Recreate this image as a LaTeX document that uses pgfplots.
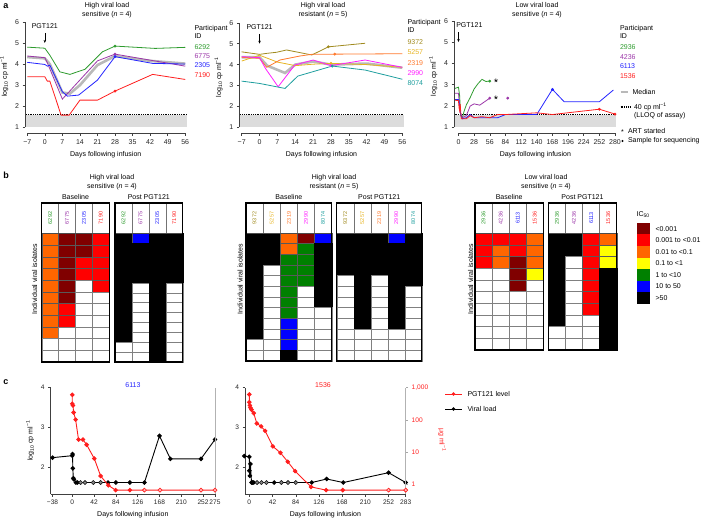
\documentclass[border=0pt]{standalone}
\usepackage{pgfplots}
\pgfplotsset{compat=1.18}
\usepackage{fontspec}
\setmainfont{Liberation Sans}
\usetikzlibrary{arrows.meta}

\definecolor{cgreen}{HTML}{2E9B2E}
\definecolor{cpurple}{HTML}{9B36A8}
\definecolor{cblue}{HTML}{2323FF}
\definecolor{cred}{HTML}{FF1E1E}
\definecolor{colive}{HTML}{A08A1E}
\definecolor{cgold}{HTML}{E6B422}
\definecolor{corange}{HTML}{FF7A2E}
\definecolor{cmag}{HTML}{FF1EFF}
\definecolor{cteal}{HTML}{1E9E9E}
\definecolor{shade}{HTML}{DCDCDC}
\definecolor{medgray}{HTML}{B9B9B9}
\definecolor{hdred}{RGB}{128,0,0}
\definecolor{hred}{RGB}{255,0,0}
\definecolor{horange}{RGB}{255,102,0}
\definecolor{hyellow}{RGB}{255,255,0}
\definecolor{hgreen}{RGB}{0,128,0}
\definecolor{hblue}{RGB}{0,0,255}

\tikzset{
  lloq/.style={black, line width=1.1pt, dash pattern=on 0.9pt off 0.9pt},
  median/.style={medgray, line width=2.6pt},
  vline/.style={line width=0.8pt},
}
\pgfplotsset{
  aax/.style={scale only axis, anchor=south west, axis line style={draw=none},
    axis x line*=bottom, axis y line*=left, tick align=outside, major tick length=2.5pt,
    tick style={black!75, line width=0.45pt}, clip=false,
    ticklabel style={font=\fontsize{7}{8}\selectfont, text=black!85},
    label style={font=\fontsize{7}{8}\selectfont},
    /pgf/number format/assume math mode=true, ymin=0.72, ymax=6.1, ytick={1,2,3,4,5,6},
    xlabel={Days following infusion}, ylabel={log\textsubscript{10} cp ml\textsuperscript{−1}}},
  cax/.style={scale only axis, anchor=south west, axis x line*=bottom, axis y line*=left,
    axis line style={-, black!75, line width=0.45pt}, tick align=outside, major tick length=2.5pt,
    tick style={black!75, line width=0.45pt}, clip=false,
    ticklabel style={font=\fontsize{6.6}{8}\selectfont, text=black!85},
    label style={font=\fontsize{7}{8}\selectfont},
    /pgf/number format/assume math mode=true, ymin=1.31, ymax=4, ytick={2,3,4},
    xlabel={Days following infusion}},
  pax/.style={scale only axis, anchor=south west, ymin=-0.30, ymax=3,
    axis x line=none, axis y line*=right, axis line style={-, black!30, line width=0.8pt},
    clip=false, tick align=outside, major tick length=2.5pt,
    tick style={black!35, line width=0.45pt},
    ticklabel style={font=\fontsize{6.6}{8}\selectfont, text=cred},
    /pgf/number format/assume math mode=true},
  smark/.style={only marks, mark=*, mark size=1.2pt},
  hm/.style={scale only axis, anchor=south west, hide axis, y dir=reverse, enlargelimits=false, clip=false},
  hmp/.style={scatter, only marks, mark=square*, scatter src=explicit symbolic,
    scatter/classes={0={fill=white, draw=black!50}, 1={fill=hdred, draw=black!65},
      2={fill=hred, draw=black!65}, 3={fill=horange, draw=black!65}, 4={fill=hyellow, draw=black!65},
      5={fill=hgreen, draw=black!65}, 6={fill=hblue, draw=black!65}, 7={fill=black, draw=black}}},
}

\newcommand{\hmframe}[5]{%
  \pgfmathsetmacro{\cw}{(#2-#1)/#5}%
  \pgfmathtruncatemacro{\nm}{#5-1}%
  \foreach \i in {1,...,\nm}{\draw[black!55, line width=0.35pt] ({#1+\i*\cw},#4) -- ({#1+\i*\cw},316);}
  \draw[black!70, line width=0.4pt] (#1,#4) -- (#2,#4);
  \draw[line width=1.1pt] (#1,#3) rectangle (#2,316);
}
\newcommand{\hid}[3]{\node[rotate=90, font=\fontsize{5.5}{6}\selectfont, text=#3] at (#1,301) {#2};}

\begin{document}
\begin{tikzpicture}[x=1pt, y=1pt, font=\fontsize{7}{8.4}\selectfont]
\useasboundingbox (0,0) rectangle (706,519);

% ---------------- panel letters
\node[font=\fontsize{9}{10}\bfseries\selectfont] at (6,513) {a};
\node[font=\fontsize{9}{10}\bfseries\selectfont] at (6,344) {b};
\node[font=\fontsize{9}{10}\bfseries\selectfont] at (6,137) {c};

% ---------------- a1
\node[align=center] at (107,509) {High viral load\\sensitive (\textit{n} = 4)};
\begin{axis}[aax, at={(25pt,385.7pt)}, width=161.5pt, height=113.6pt, xmin=-7.9, xmax=56.5,
  xtick={-7,0,...,56}, xticklabels={−7,0,7,14,21,28,35,42,49,56}]
\addplot[fill=shade, draw=none] coordinates {(-7.5,1)(56.5,1)(56.5,1.6)(-7.5,1.6)} -- cycle;
\addplot[lloq] coordinates {(-7.5,1.6)(56.5,1.6)};
\addplot[median] coordinates {(-7,4.33)(0,4.27)(2,4.0)(7,2.65)(10,2.6)(14,3.0)(21,3.95)(28,4.38)(42,4.15)(56,4.02)};
\addplot[vline, cgreen] coordinates {(-7,4.8)(0,4.75)(2,4.42)(6,3.63)(10,3.51)(16,3.75)(23,4.58)(28,4.85)(44,4.74)(56,4.79)};
\addplot[vline, cpurple] coordinates {(-7,4.38)(0,4.3)(1,4.06)(7,2.34)(21,4.15)(28,4.47)(56,3.9)};
\addplot[vline, cblue] coordinates {(-7,4.08)(0,3.98)(1,3.9)(2,3.95)(7,2.69)(9,2.48)(13.5,2.53)(21,3.24)(28,4.35)(43,4.03)(56,4.0)};
\addplot[vline, cred] coordinates {(-7,3.4)(0,3.4)(1,3.19)(2,3.19)(6.5,1.58)(9.7,1.58)(14,2.29)(21,2.29)(28,2.72)(43,3.51)(56,3.27)};
\addplot[smark, cgreen] coordinates {(28,4.85)};
\addplot[smark, cpurple] coordinates {(28,4.47)};
\addplot[smark, cblue] coordinates {(28,4.35)};
\addplot[smark, cred] coordinates {(28,2.72)};
\draw[black!75, line width=0.45pt] (axis cs:-7.9,1) -- (axis cs:-7.9,6);
\draw[black!75, line width=0.45pt] (axis cs:-7,0.72) -- (axis cs:56,0.72);
\draw[-{Stealth[length=3pt,width=2.5pt]}, line width=0.6pt] (axis cs:0,5.47) -- (axis cs:0,5.0);
\node[anchor=south, inner sep=1pt] at (axis cs:0,5.6) {PGT121};
\end{axis}
\node[align=left, anchor=west] at (191,487) {Participant\\ID};
\node[anchor=west, text=cgreen] at (191,472) {6292};
\node[anchor=west, text=cpurple] at (191,463) {6775};
\node[anchor=west, text=cblue] at (191,454) {2305};
\node[anchor=west, text=cred] at (191,444) {7190};

% ---------------- a2
\node[align=center] at (323,509) {High viral load\\resistant (\textit{n} = 5)};
\begin{axis}[aax, at={(239.4pt,385.8pt)}, width=164.2pt, height=112.5pt, xmin=-7.9, xmax=56.5,
  xtick={-7,0,...,56}, xticklabels={−7,0,7,14,21,28,35,42,49,56}]
\addplot[fill=shade, draw=none] coordinates {(-7.5,1)(56.5,1)(56.5,1.6)(-7.5,1.6)} -- cycle;
\addplot[lloq] coordinates {(-7.5,1.6)(56.5,1.6)};
\addplot[median] coordinates {(-7,4.35)(0,4.35)(3,3.95)(7,3.75)(10,3.6)(14,4.0)(21,4.15)(28,4.0)(42,4.05)(56,3.85)};
\addplot[vline, colive] coordinates {(-7,4.61)(0,4.49)(3,4.54)(6.7,4.59)(10.6,4.7)(20.5,4.46)(27,4.85)(41.4,5.02)};
\addplot[vline, cgold] coordinates {(-7,4.17)(0,4.45)(7,4.12)(10,4.05)(14,3.95)(21,4.02)(28,4.06)(42,4.0)(56,3.87)};
\addplot[vline, corange] coordinates {(-7,4.35)(0,4.3)(2.8,3.87)(8,4.22)(15.8,4.41)(21,4.5)(29.5,4.5)(56,4.52)};
\addplot[vline, cmag] coordinates {(-7,4.38)(0,4.33)(2.3,3.82)(7.3,2.94)(13.8,3.98)(21,4.22)(28,3.95)(41.4,4.22)(56,3.87)};
\addplot[vline, cteal] coordinates {(-7,3.21)(0,3.1)(10,2.86)(15,3.45)(28.5,3.93)(41.4,3.74)(56,3.3)};
\addplot[smark, colive] coordinates {(27,4.85)};
\addplot[smark, cgold] coordinates {(28,4.06)};
\addplot[smark, corange] coordinates {(29.5,4.5)};
\addplot[smark, cmag] coordinates {(28,3.95)};
\addplot[smark, cteal] coordinates {(28.5,3.93)};
\draw[black!75, line width=0.45pt] (axis cs:-7.9,1) -- (axis cs:-7.9,6);
\draw[black!75, line width=0.45pt] (axis cs:-7,0.72) -- (axis cs:56,0.72);
\draw[-{Stealth[length=3pt,width=2.5pt]}, line width=0.6pt] (axis cs:0,5.47) -- (axis cs:0,5.0);
\node[anchor=south, inner sep=1pt] at (axis cs:0,5.6) {PGT121};
\end{axis}
\node[align=left, anchor=west] at (404,493) {Participant\\ID};
\node[anchor=west, text=colive] at (404,477) {9372};
\node[anchor=west, text=cgold] at (404,467) {5257};
\node[anchor=west, text=corange] at (404,456) {2319};
\node[anchor=west, text=cmag] at (404,446) {2990};
\node[anchor=west, text=cteal] at (404,436) {8074};

% ---------------- a3
\node[align=center] at (537,509) {Low viral load\\sensitive (\textit{n} = 4)};
\begin{axis}[aax, at={(454pt,385.7pt)}, width=162.7pt, height=114.7pt, xmin=-8, xmax=283,
  xtick={0,28,...,280}]
\addplot[fill=shade, draw=none] coordinates {(-7,1)(282,1)(282,1.6)(-7,1.6)} -- cycle;
\addplot[lloq] coordinates {(-7,1.6)(282,1.6)};
\addplot[vline, cgreen] coordinates {(-7,2.82)(0,2.88)(2,2.5)(4,1.55)(7,1.45)(10,1.75)(14,2.05)(21,2.4)(28,2.8)(35,3.05)(42,3.25)(49,3.15)(56,3.17)};
\addplot[vline, cpurple] coordinates {(-7,2.6)(0,2.6)(3,1.7)(7,1.45)(14,1.55)(21,2.0)(28,2.1)(38,2.04)(56,2.37)};
\addplot[vline, cblue] coordinates {(-7,2.3)(0,2.3)(1,2.25)(2,1.95)(4,1.6)(7,1.4)(14,1.45)(21,1.6)(28,1.45)(42,1.45)(56,1.45)(70,1.45)(84,1.6)(140,1.6)(168,2.78)(189,2.2)(252,2.2)(277,2.75)};
\addplot[vline, cred] coordinates {(-7,2.28)(0,2.25)(1,1.92)(2,1.8)(3,2.1)(5,1.4)(14,1.4)(21,1.55)(28,1.45)(42,1.5)(56,1.45)(70,1.6)(84,1.6)(140,1.68)(168,1.6)(252,1.85)(280,1.62)};
\addplot[smark, cgreen] coordinates {(56,3.17)};
\addplot[smark, cpurple] coordinates {(56,2.37)(88,2.37)};
\addplot[smark, cblue] coordinates {(168,2.78)};
\addplot[smark, cred] coordinates {(252,1.85)(280,1.62)};
\addplot[only marks, mark=star, mark size=2pt, black, line width=0.5pt] coordinates {(67,3.2)(67,2.4)};
\draw[black!75, line width=0.45pt] (axis cs:-8,1) -- (axis cs:-8,6);
\draw[black!75, line width=0.45pt] (axis cs:0,0.72) -- (axis cs:280,0.72);
\draw[-{Stealth[length=3pt,width=2.5pt]}, line width=0.6pt] (axis cs:0,5.47) -- (axis cs:0,5.0);
\node[anchor=south west, inner sep=1pt] at (axis cs:-6,5.6) {PGT121};
\end{axis}
\node[align=left, anchor=west] at (616.5,487) {Participant\\ID};
\node[anchor=west, text=cgreen] at (616.5,472) {2936};
\node[anchor=west, text=cpurple] at (616.5,462) {4236};
\node[anchor=west, text=cblue] at (616.5,453) {6113};
\node[anchor=west, text=cred] at (616.5,443) {1536};
\draw[median] (620.5,427) -- (627.5,427);
\node[anchor=west] at (629,427) {Median};
\draw[lloq] (620.5,412) -- (630,412);
\node[anchor=west] at (630.5,412) {40 cp ml\textsuperscript{−1}};
\node[anchor=west] at (630.5,403) {(LLOQ of assay)};
\node at (622.5,387) {*};
\node[anchor=west] at (624.5,388) {ART started};
\fill (622.5,378) circle (1.1);
\node[anchor=west] at (624.5,378) {Sample for sequencing};

% ---------------- b : heatmaps
\node[align=center] at (112,337) {High viral load\\sensitive (\textit{n} = 4)};
\node[align=center] at (334,337) {High viral load\\resistant (\textit{n} = 5)};
\node[align=center] at (546,337) {Low viral load\\sensitive (\textit{n} = 4)};
\node at (75.5,322) {Baseline};
\node at (148.8,322) {Post PGT121};
\node at (288.9,322) {Baseline};
\node at (379.2,322) {Post PGT121};
\node at (509.2,322) {Baseline};
\node at (582.5,322) {Post PGT121};
\node[rotate=90] at (34.7,240) {Individual viral isolates};
\node[rotate=90] at (240,240) {Individual viral isolates};
\node[rotate=90] at (470.5,240) {Individual viral isolates};

% b1 baseline (cell 16.9 x 11.7)
\begin{axis}[hm, at={(41.7pt,157pt)}, width=67.6pt, height=128.7pt, xmin=0.5, xmax=4.5, ymin=0.5, ymax=11.5]
\addplot[hmp, mark size=5.85pt, mark options={xscale=1.444, line width=0.35pt}] table[meta=c, row sep=\\] {x y c\\
1 1 3\\ 2 1 1\\ 3 1 1\\ 4 1 2\\
1 2 3\\ 2 2 1\\ 3 2 1\\ 4 2 2\\
1 3 3\\ 2 3 1\\ 3 3 2\\ 4 3 2\\
1 4 3\\ 2 4 1\\ 3 4 2\\ 4 4 2\\
1 5 3\\ 2 5 1\\ 3 5 0\\ 4 5 2\\
1 6 3\\ 2 6 1\\ 3 6 0\\ 4 6 0\\
1 7 3\\ 2 7 2\\ 3 7 0\\ 4 7 0\\
1 8 3\\ 2 8 2\\ 3 8 0\\ 4 8 0\\
1 9 3\\ 2 9 0\\ 3 9 0\\ 4 9 0\\
1 10 0\\ 2 10 0\\ 3 10 0\\ 4 10 0\\
1 11 0\\ 2 11 0\\ 3 11 0\\ 4 11 0\\
};
\end{axis}
% b1 post (cell 16.9 x 9.9)
\begin{axis}[hm, at={(115pt,157pt)}, width=67.7pt, height=128.7pt, xmin=0.5, xmax=4.5, ymin=0.5, ymax=13.5]
\addplot[hmp, mark size=4.95pt, mark options={xscale=1.71, line width=0.35pt}] table[meta=c, row sep=\\] {x y c\\
1 1 7\\ 2 1 6\\ 3 1 7\\ 4 1 7\\
1 2 7\\ 2 2 7\\ 3 2 7\\ 4 2 7\\
1 3 7\\ 2 3 7\\ 3 3 7\\ 4 3 7\\
1 4 7\\ 2 4 7\\ 3 4 7\\ 4 4 7\\
1 5 7\\ 2 5 7\\ 3 5 7\\ 4 5 7\\
1 6 7\\ 2 6 0\\ 3 6 7\\ 4 6 0\\
1 7 7\\ 2 7 0\\ 3 7 7\\ 4 7 0\\
1 8 7\\ 2 8 0\\ 3 8 7\\ 4 8 0\\
1 9 7\\ 2 9 0\\ 3 9 7\\ 4 9 0\\
1 10 7\\ 2 10 0\\ 3 10 7\\ 4 10 0\\
1 11 7\\ 2 11 0\\ 3 11 7\\ 4 11 0\\
1 12 0\\ 2 12 0\\ 3 12 7\\ 4 12 0\\
1 13 0\\ 2 13 0\\ 3 13 7\\ 4 13 0\\
};
\end{axis}
% b2 baseline (cell 17.14 x 10.67)
\begin{axis}[hm, at={(246pt,158pt)}, width=85.7pt, height=128pt, xmin=0.5, xmax=5.5, ymin=0.5, ymax=12.5]
\addplot[hmp, mark size=5.333pt, mark options={xscale=1.607, line width=0.35pt}] table[meta=c, row sep=\\] {x y c\\
1 1 7\\ 2 1 7\\ 3 1 3\\ 4 1 1\\ 5 1 6\\
1 2 7\\ 2 2 7\\ 3 2 3\\ 4 2 5\\ 5 2 7\\
1 3 7\\ 2 3 7\\ 3 3 5\\ 4 3 5\\ 5 3 7\\
1 4 7\\ 2 4 0\\ 3 4 5\\ 4 4 5\\ 5 4 7\\
1 5 7\\ 2 5 0\\ 3 5 5\\ 4 5 5\\ 5 5 7\\
1 6 7\\ 2 6 0\\ 3 6 5\\ 4 6 0\\ 5 6 7\\
1 7 7\\ 2 7 0\\ 3 7 5\\ 4 7 0\\ 5 7 7\\
1 8 7\\ 2 8 0\\ 3 8 5\\ 4 8 0\\ 5 8 0\\
1 9 7\\ 2 9 0\\ 3 9 6\\ 4 9 0\\ 5 9 0\\
1 10 7\\ 2 10 0\\ 3 10 6\\ 4 10 0\\ 5 10 0\\
1 11 0\\ 2 11 0\\ 3 11 6\\ 4 11 0\\ 5 11 0\\
1 12 0\\ 2 12 0\\ 3 12 7\\ 4 12 0\\ 5 12 0\\
};
\end{axis}
% b2 post (cell 17.0 x 10.67)
\begin{axis}[hm, at={(336.7pt,158pt)}, width=85pt, height=128pt, xmin=0.5, xmax=5.5, ymin=0.5, ymax=12.5]
\addplot[hmp, mark size=5.333pt, mark options={xscale=1.594, line width=0.35pt}] table[meta=c, row sep=\\] {x y c\\
1 1 7\\ 2 1 7\\ 3 1 7\\ 4 1 6\\ 5 1 7\\
1 2 7\\ 2 2 7\\ 3 2 7\\ 4 2 7\\ 5 2 7\\
1 3 7\\ 2 3 7\\ 3 3 7\\ 4 3 7\\ 5 3 7\\
1 4 7\\ 2 4 7\\ 3 4 7\\ 4 4 7\\ 5 4 7\\
1 5 0\\ 2 5 7\\ 3 5 0\\ 4 5 7\\ 5 5 7\\
1 6 0\\ 2 6 7\\ 3 6 0\\ 4 6 7\\ 5 6 0\\
1 7 0\\ 2 7 7\\ 3 7 0\\ 4 7 7\\ 5 7 0\\
1 8 0\\ 2 8 7\\ 3 8 0\\ 4 8 7\\ 5 8 0\\
1 9 0\\ 2 9 7\\ 3 9 0\\ 4 9 7\\ 5 9 0\\
1 10 0\\ 2 10 0\\ 3 10 0\\ 4 10 0\\ 5 10 0\\
1 11 0\\ 2 11 0\\ 3 11 0\\ 4 11 0\\ 5 11 0\\
1 12 0\\ 2 12 0\\ 3 12 0\\ 4 12 0\\ 5 12 0\\
};
\end{axis}
% b3 baseline (cell 17.08 x 11.67)
\begin{axis}[hm, at={(475pt,169pt)}, width=68.3pt, height=116.7pt, xmin=0.5, xmax=4.5, ymin=0.5, ymax=10.5]
\addplot[hmp, mark size=5.835pt, mark options={xscale=1.463, line width=0.35pt}] table[meta=c, row sep=\\] {x y c\\
1 1 2\\ 2 1 2\\ 3 1 2\\ 4 1 3\\
1 2 2\\ 2 2 3\\ 3 2 2\\ 4 2 3\\
1 3 2\\ 2 3 3\\ 3 3 1\\ 4 3 3\\
1 4 0\\ 2 4 0\\ 3 4 1\\ 4 4 4\\
1 5 0\\ 2 5 0\\ 3 5 1\\ 4 5 0\\
1 6 0\\ 2 6 0\\ 3 6 0\\ 4 6 0\\
1 7 0\\ 2 7 0\\ 3 7 0\\ 4 7 0\\
1 8 0\\ 2 8 0\\ 3 8 0\\ 4 8 0\\
1 9 0\\ 2 9 0\\ 3 9 0\\ 4 9 0\\
1 10 0\\ 2 10 0\\ 3 10 0\\ 4 10 0\\
};
\end{axis}
% b3 post (cell 17.1 x 11.67)
\begin{axis}[hm, at={(548.3pt,169pt)}, width=68.4pt, height=116.7pt, xmin=0.5, xmax=4.5, ymin=0.5, ymax=10.5]
\addplot[hmp, mark size=5.835pt, mark options={xscale=1.465, line width=0.35pt}] table[meta=c, row sep=\\] {x y c\\
1 1 7\\ 2 1 7\\ 3 1 2\\ 4 1 3\\
1 2 7\\ 2 2 7\\ 3 2 2\\ 4 2 4\\
1 3 7\\ 2 3 0\\ 3 3 2\\ 4 3 4\\
1 4 7\\ 2 4 0\\ 3 4 2\\ 4 4 7\\
1 5 7\\ 2 5 0\\ 3 5 2\\ 4 5 7\\
1 6 7\\ 2 6 0\\ 3 6 2\\ 4 6 7\\
1 7 7\\ 2 7 0\\ 3 7 2\\ 4 7 7\\
1 8 7\\ 2 8 0\\ 3 8 0\\ 4 8 7\\
1 9 0\\ 2 9 0\\ 3 9 0\\ 4 9 7\\
1 10 0\\ 2 10 0\\ 3 10 0\\ 4 10 7\\
};
\end{axis}

% frames and headers
\hmframe{41.7}{109.3}{157}{285.7}{4}
\hmframe{115}{182.7}{157}{285.7}{4}
\hmframe{246}{331.7}{158}{285.7}{5}
\hmframe{336.7}{421.7}{158}{285.7}{5}
\hmframe{475}{543.3}{169}{285.7}{4}
\hmframe{548.3}{616.7}{169}{285.7}{4}
\hid{50.15}{6292}{cgreen}\hid{67.05}{6775}{cpurple}\hid{83.95}{2305}{cblue}\hid{100.85}{7190}{cred}
\hid{123.5}{6292}{cgreen}\hid{140.4}{6775}{cpurple}\hid{157.3}{2305}{cblue}\hid{174.2}{7190}{cred}
\hid{254.6}{9372}{colive}\hid{271.7}{5257}{cgold}\hid{288.9}{2319}{corange}\hid{306.0}{2990}{cmag}\hid{323.1}{8074}{cteal}
\hid{345.2}{9372}{colive}\hid{362.2}{5257}{cgold}\hid{379.2}{2319}{corange}\hid{396.2}{2990}{cmag}\hid{413.2}{8074}{cteal}
\hid{483.5}{2936}{cgreen}\hid{500.6}{4236}{cpurple}\hid{517.7}{6113}{cblue}\hid{534.8}{1536}{cred}
\hid{556.9}{2936}{cgreen}\hid{574.0}{4236}{cpurple}\hid{591.1}{6113}{cblue}\hid{608.2}{1536}{cred}

% IC50 legend
\node[anchor=west, inner sep=0pt] at (636.5,304) {IC\textsubscript{50}};
\fill[hdred] (637,284.5) rectangle (650,296);
\fill[hred] (637,273) rectangle (650,284.5);
\fill[horange] (637,261.4) rectangle (650,273);
\fill[hyellow] (637,249.9) rectangle (650,261.4);
\fill[hgreen] (637,238.4) rectangle (650,249.9);
\fill[hblue] (637,226.9) rectangle (650,238.4);
\fill[black] (637,215.3) rectangle (650,226.9);
\node[anchor=west] at (652,290.2) {<0.001};
\node[anchor=west] at (652,278.7) {0.001 to <0.01};
\node[anchor=west] at (652,267.2) {0.01 to <0.1};
\node[anchor=west] at (652,255.6) {0.1 to <1};
\node[anchor=west] at (652,244.1) {1 to <10};
\node[anchor=west] at (652,232.6) {10 to 50};
\node[anchor=west] at (652,221.1) {>50};

% ---------------- c1
\node[text=cblue] at (133,134) {6113};
\begin{axis}[cax, at={(50.7pt,25pt)}, width=164.3pt, height=106.3pt, xmin=-41.6, xmax=275,
  xtick={-38,0,42,84,126,168,210,252,275}, xticklabels={−38,0,42,84,126,168,210,252,275},
  ylabel={log\textsubscript{10} cp ml\textsuperscript{−1}}]
\addplot[black, line width=0.9pt, mark=*, mark size=1.8pt] coordinates {(-38,2.23)(0,2.28)(0.5,2.32)(1,1.96)(2,1.71)(3,1.68)(7,1.6)(10,1.6)(16,1.6)(24.5,1.6)(40.5,1.6)(54.6,1.6)(69,1.6)(84,1.6)(111,1.6)(139,1.6)(168,2.78)(189,2.2)(248,2.2)(275,2.69)};
\addplot[only marks, mark=*, mark size=1.8pt, mark options={fill=black!45, draw=black!85}] coordinates {(16,1.6)(24.5,1.6)(40.5,1.6)(54.6,1.6)};
\end{axis}
% PGT121 level, log10 of ug/ml
\begin{axis}[pax, at={(50.7pt,25pt)}, width=164.3pt, height=106.3pt, xmin=-41.6, xmax=275, ytick=\empty]
\addplot[cred, line width=0.9pt, mark=*, mark size=1.8pt] coordinates {(0,2.78)(0,2.50)(1.3,2.45)(2.6,2.23)(6.4,2.01)(12,1.39)(20.5,1.39)(27.6,1.23)(42.4,0.80)(54.6,0.26)(69.4,-0.03)(83.5,-0.18)(111,-0.18)(139,-0.18)(169,-0.18)(248,-0.18)(275,-0.18)};
\addplot[only marks, mark=*, mark size=1.8pt, mark options={fill=red!25, draw=cred}] coordinates {(139,-0.18)(169,-0.18)(248,-0.18)(275,-0.18)};
\end{axis}

% ---------------- c2
\node[text=cred] at (323,134) {1536};
\begin{axis}[cax, at={(245pt,25pt)}, width=160.7pt, height=106.3pt, xmin=-7.8, xmax=283,
  xtick={0,42,84,126,168,210,252,283}]
\addplot[black, line width=0.9pt, mark=*, mark size=1.8pt] coordinates {(-9,2.27)(0,2.25)(0,1.9)(1,1.77)(2,2.07)(4,1.6)(6,1.6)(8,1.6)(14,1.6)(22,1.6)(31,1.6)(45,1.6)(58,1.6)(70,1.6)(84,1.6)(113,1.6)(140,1.69)(170,1.6)(252,1.85)(283,1.6)};
\addplot[only marks, mark=*, mark size=1.8pt, mark options={fill=black!45, draw=black!85}] coordinates {(14,1.6)(22,1.6)(31,1.6)(58,1.6)(70,1.6)(84,1.6)};
\end{axis}
\begin{axis}[pax, at={(245pt,25pt)}, width=160.7pt, height=106.3pt, xmin=-7.8, xmax=283,
  ytick={0,1,2,3}, yticklabels={1,10,100,{1,000}}]
\addplot[cred, line width=0.9pt, mark=*, mark size=1.8pt] coordinates {(0,2.79)(0,2.55)(1,2.45)(2,2.38)(4,2.32)(8,2.21)(13.5,1.89)(21.3,1.80)(28.6,1.66)(42.5,1.18)(56.3,0.98)(69.6,0.70)(82.9,0.41)(111.8,-0.08)(139,-0.18)(169,-0.18)(252,-0.18)(283,-0.18)};
\addplot[only marks, mark=*, mark size=1.8pt, mark options={fill=red!25, draw=cred}] coordinates {(252,-0.18)(283,-0.18)};
\end{axis}
\node[rotate=-90, text=cred] at (442,79) {μg ml\textsuperscript{−1}};

% c legend
\draw[cred, line width=0.9pt] (445,125) -- (462,125);
\fill[cred] (453.5,125) circle (1.8);
\node[anchor=west] at (464,125) {PGT121 level};
\draw[black, line width=0.9pt] (445,110) -- (462,110);
\fill[black] (453.5,110) circle (1.8);
\node[anchor=west] at (464,110) {Viral load};
\end{tikzpicture}
\end{document}
